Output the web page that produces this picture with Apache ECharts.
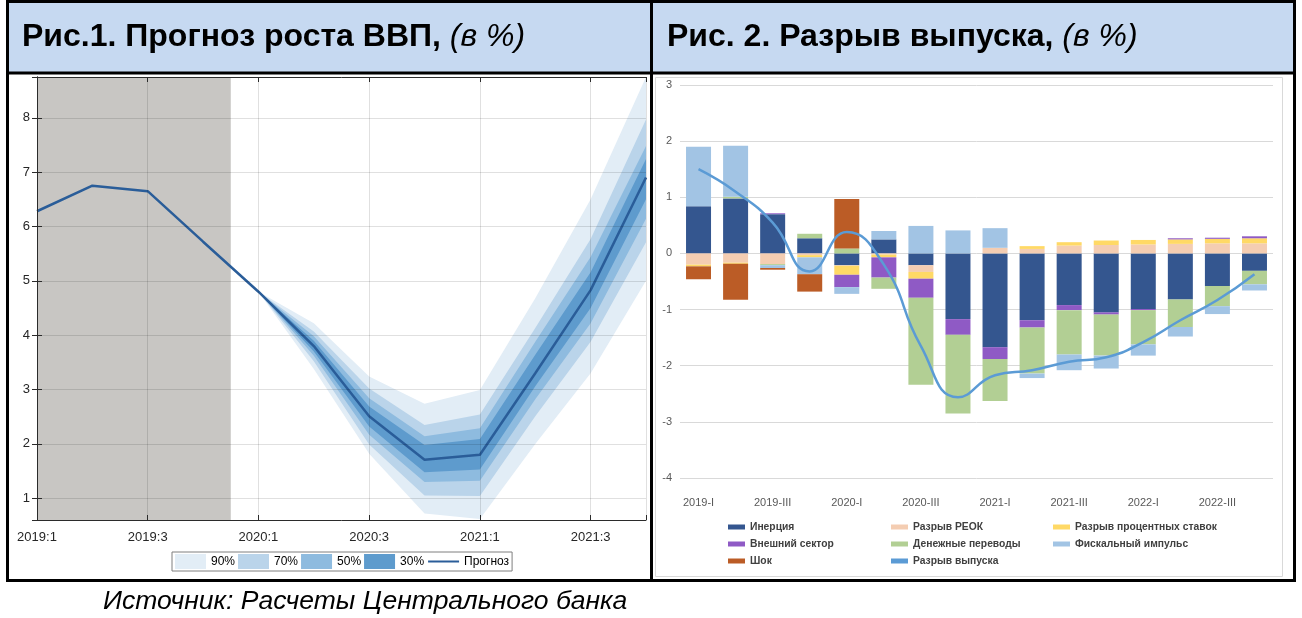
<!DOCTYPE html>
<html><head><meta charset="utf-8">
<script src="https://cdn.jsdelivr.net/npm/echarts@6/dist/echarts.min.js"></script>
<style>html,body{margin:0;padding:0;background:#fff;}#c{width:1302px;height:618px;}</style>
</head><body><div id="c"></div>
<script>
// ---------- Fig.1 data: GDP growth forecast fan ----------
const quarters = ['2019:1','2019:2','2019:3','2019:4','2020:1','2020:2','2020:3','2020:4','2021:1','2021:2','2021:3','2021:4'];
const gdpForecast = [6.28, 6.75, 6.65, 5.72, 4.8, 3.8, 2.51, 1.71, 1.8, 3.3, 4.83, 6.9];
const historyEnd = 3.5;           // end of shaded (actual data) period, in quarter index
const fanStart = 4;               // fan begins at 2020:1
const lo90 = [4.8, 3.38, 1.82, 0.72, 0.62, 2.0, 3.3, 5.0];
const lo70 = [4.8, 3.52, 1.99, 1.05, 1.04, 2.51, 3.88, 5.71];
const lo50 = [4.8, 3.62, 2.17, 1.30, 1.32, 2.82, 4.22, 6.14];
const lo30 = [4.8, 3.70, 2.32, 1.48, 1.53, 3.06, 4.50, 6.50];
const hi30 = [4.8, 3.90, 2.69, 1.98, 2.09, 3.64, 5.16, 7.24];
const hi50 = [4.8, 3.98, 2.84, 2.14, 2.29, 3.88, 5.44, 7.48];
const hi70 = [4.8, 4.07, 3.02, 2.35, 2.54, 4.13, 5.77, 7.97];
const hi90 = [4.8, 4.22, 3.24, 2.74, 2.99, 4.68, 6.50, 8.80];

// ---------- Fig.2 data: output gap decomposition ----------
const gapQuarters = ['2019-I','2019-II','2019-III','2019-IV','2020-I','2020-II','2020-III','2020-IV','2021-I','2021-II','2021-III','2021-IV','2022-I','2022-II','2022-III','2022-IV'];
const inertia  = [0.84, 0.98, 0.70, 0.27, -0.21, 0.25, -0.21, -1.17, -1.67, -1.19, -0.92, -1.05, -0.99, -0.82, -0.58, -0.31];
const reer     = [-0.20, -0.165, -0.19, -0.03, -0.01, -0.02, -0.12, 0, 0.10, 0.08, 0.14, 0.15, 0.16, 0.17, 0.18, 0.18];
const rates    = [-0.03, -0.02, 0, -0.04, -0.16, -0.05, -0.12, 0, 0, 0.05, 0.06, 0.08, 0.08, 0.08, 0.08, 0.09];
const external = [0, 0, 0.015, 0, -0.22, -0.36, -0.34, -0.28, -0.21, -0.13, -0.09, -0.04, -0.02, 0.02, 0.02, 0.035];
const remit    = [0, 0.03, -0.02, 0.08, 0.09, -0.20, -1.55, -1.40, -0.75, -0.82, -0.79, -0.73, -0.61, -0.49, -0.36, -0.24];
const fiscal   = [1.06, 0.91, -0.05, -0.30, -0.12, 0.15, 0.49, 0.41, 0.35, -0.08, -0.28, -0.23, -0.20, -0.17, -0.14, -0.11];
const shock    = [-0.23, -0.64, -0.03, -0.31, 0.88, 0, 0, 0, 0, 0, 0, 0, 0, 0, 0, 0];
const outputGap = [1.5, 1.1, 0.55, -0.32, 0.38, -0.2, -1.65, -2.56, -2.17, -2.08, -1.93, -1.85, -1.58, -1.19, -0.83, -0.37];

// ---------- styling ----------
const FONT = '"Liberation Sans", Arial, sans-serif';
const C90 = '#e2edf6', C70 = '#bad4ea', C50 = '#8ebbdf', C30 = '#5e9bcd';
const partColors = {
  'Инерция': '#34568f', 'Разрыв РЕОК': '#f4cdb2', 'Разрыв процентных ставок': '#ffd966',
  'Внешний сектор': '#8f5ac5', 'Денежные переводы': '#b2cf94', 'Фискальный импульс': '#a2c4e4', 'Шок': '#bb5c26'
};
const parts = [['Инерция', inertia], ['Разрыв РЕОК', reer], ['Разрыв процентных ставок', rates],
  ['Внешний сектор', external], ['Денежные переводы', remit], ['Фискальный импульс', fiscal], ['Шок', shock]];

const fx = i => fanStart + i;
// nested fan bands: widest first, narrower ones painted on top
const bands = [['90%', lo90, hi90, C90], ['70%', lo70, hi70, C70], ['50%', lo50, hi50, C50], ['30%', lo30, hi30, C30]];

const series = [];
bands.forEach(([name, lo, hi, col]) => {
  series.push({
    name, type: 'custom', xAxisIndex: 0, yAxisIndex: 0, color: col, itemStyle: { color: col }, z: 2, silent: true,
    data: lo.map((v, i) => [fx(i), v, hi[i]]),
    encode: { x: 0, y: [1, 2] },
    renderItem: (params, api) => {
      if (params.dataIndex !== 0) return null;
      const top = hi.map((v, i) => api.coord([fx(i), v]));
      const bot = lo.map((v, i) => api.coord([fx(i), v])).reverse();
      const pts = echarts.graphic.clipPointsByRect(top.concat(bot), params.coordSys);
      return { type: 'polygon', shape: { points: pts }, style: { fill: col } };
    }
  });
});
series.push({
  name: 'Прогноз', type: 'line', xAxisIndex: 0, yAxisIndex: 0, symbol: 'none', color: '#2a5d99',
  lineStyle: { width: 2.5, color: '#2a5d99' }, data: gdpForecast.map((v, i) => [i, v]), z: 4,
  markArea: { silent: true, itemStyle: { color: '#c8c6c3' }, data: [[{ xAxis: 0 }, { xAxis: historyEnd }]] }
});

parts.forEach(([name, arr]) => {
  series.push({
    name, type: 'bar', xAxisIndex: 2, yAxisIndex: 2, stack: 'gap', barWidth: 25,
    itemStyle: { color: partColors[name] }, color: partColors[name], data: arr
  });
});
series.push({
  name: 'Разрыв выпуска', type: 'line', xAxisIndex: 2, yAxisIndex: 2, smooth: true, symbol: 'none',
  color: '#5b9bd5', itemStyle: { color: '#5b9bd5' }, lineStyle: { width: 2.5, color: '#5b9bd5' }, data: outputGap, z: 5
});

const gridLine = { show: true, lineStyle: { color: 'rgba(0,0,0,0.12)', width: 1 } };
const axLine = { show: true, lineStyle: { color: '#2b2b2b', width: 1 } };
const inTick = { show: true, inside: true, length: 5, lineStyle: { color: '#2b2b2b' } };

const legendText = { fontFamily: FONT, fontSize: 10.3, fontWeight: 'bold', color: '#404040' };
const rightLegend = (left, data) => ({
  orient: 'vertical', left, top: 522, padding: 0, itemGap: 7, itemWidth: 17, itemHeight: 5,
  icon: 'rect', selectedMode: false, textStyle: legendText, data
});
const titleRich = {
  b: { fontFamily: FONT, fontSize: 32, fontWeight: 'bold', color: '#000' },
  i: { fontFamily: FONT, fontSize: 32, fontStyle: 'italic', fontWeight: 'normal', color: '#000' }
};

const option = {
  animation: false,
  backgroundColor: '#fff',
  textStyle: { fontFamily: FONT },
  title: [
    { left: 22, top: 21, padding: 0, text: '{b|Рис.1. Прогноз роста ВВП, }{i|(в %)}', textStyle: { rich: titleRich } },
    { left: 667, top: 21, padding: 0, text: '{b|Рис. 2. Разрыв выпуска, }{i|(в %)}', textStyle: { rich: titleRich } },
    { left: 103, top: 588, padding: 0, text: 'Источник: Расчеты Центрального банка',
      textStyle: { fontFamily: FONT, fontSize: 26.5, fontStyle: 'italic', fontWeight: 'normal', color: '#000' } }
  ],
  graphic: [
    { type: 'rect', z: -10, silent: true, shape: { x: 7, y: 1, width: 1288, height: 71 }, style: { fill: '#c6d9f1' } },
    { type: 'rect', z: 100, silent: true, shape: { x: 655.5, y: 77.5, width: 627, height: 499 }, style: { fill: 'none', stroke: '#d9d9d9', lineWidth: 1 } },
    { type: 'rect', z: 100, silent: true, shape: { x: 7.5, y: 1.5, width: 1287, height: 579 }, style: { fill: 'none', stroke: '#000', lineWidth: 3 } },
    { type: 'line', z: 100, silent: true, shape: { x1: 651.5, y1: 1.5, x2: 651.5, y2: 580.5 }, style: { stroke: '#000', lineWidth: 3 } },
    { type: 'line', z: 100, silent: true, shape: { x1: 7.5, y1: 73, x2: 1294.5, y2: 73 }, style: { stroke: '#000', lineWidth: 3 } }
  ],
  legend: [
    { left: 172, top: 552, padding: [2, 3], itemGap: 3, itemWidth: 31, itemHeight: 15, selectedMode: false,
      borderColor: '#7f7f7f', borderWidth: 1, backgroundColor: '#fff',
      textStyle: { fontFamily: FONT, fontSize: 12, color: '#000' },
      data: [{ name: '90%', icon: 'rect' }, { name: '70%', icon: 'rect' }, { name: '50%', icon: 'rect' }, { name: '30%', icon: 'rect' },
             { name: 'Прогноз', itemStyle: { opacity: 0 } }] },
    rightLegend(728, ['Инерция', 'Внешний сектор', 'Шок']),
    rightLegend(891, ['Разрыв РЕОК', 'Денежные переводы', 'Разрыв выпуска']),
    rightLegend(1053, ['Разрыв процентных ставок', 'Фискальный импульс'])
  ],
  grid: [
    { left: 37, right: 656, top: 77, bottom: 98 },
    { left: 680, right: 29, top: 85, bottom: 140 }
  ],
  xAxis: [
    { gridIndex: 0, type: 'value', min: 0, max: quarters.length - 1, interval: 2, position: 'bottom', z: 10,
      axisLine: axLine, axisTick: inTick, splitLine: gridLine,
      axisLabel: { color: '#262626', fontSize: 13, margin: 11, fontFamily: FONT,
        formatter: v => (Number.isInteger(v) && v % 2 === 0 ? quarters[v] : '') } },
    { gridIndex: 0, type: 'value', min: 0, max: quarters.length - 1, interval: 2, position: 'top', z: 10,
      axisLine: axLine, axisTick: inTick, splitLine: { show: false }, axisLabel: { show: false } },
    { gridIndex: 1, type: 'category', data: gapQuarters, z: 1,
      axisLine: { show: false }, axisTick: { show: false },
      axisLabel: { interval: 1, color: '#595959', fontSize: 11, margin: 19, fontFamily: FONT } }
  ],
  yAxis: [
    { gridIndex: 0, type: 'value', min: 0.6, max: 8.75, splitNumber: 8, minInterval: 1, maxInterval: 1, position: 'left', z: 10,
      axisLine: axLine, axisTick: inTick, splitLine: gridLine,
      axisLabel: { color: '#262626', fontSize: 13, margin: 7, fontFamily: FONT,
        formatter: v => (Math.abs(v - Math.round(v)) < 1e-6 ? String(Math.round(v)) : '') } },
    { gridIndex: 0, type: 'value', min: 0.6, max: 8.75, splitNumber: 8, minInterval: 1, maxInterval: 1, position: 'right', z: 10,
      axisLine: axLine, axisTick: inTick, splitLine: { show: false }, axisLabel: { show: false } },
    { gridIndex: 1, type: 'value', min: -4, max: 3, interval: 1, z: 0,
      axisLine: { show: false }, axisTick: { show: false },
      splitLine: { show: true, lineStyle: { color: '#d9d9d9', width: 1 } },
      axisLabel: { color: '#595959', fontSize: 11, margin: 8, fontFamily: FONT } }
  ],
  series
};

const chart = echarts.init(document.getElementById('c'), null, { renderer: 'canvas' });
chart.setOption(option);
</script>
</body></html>
